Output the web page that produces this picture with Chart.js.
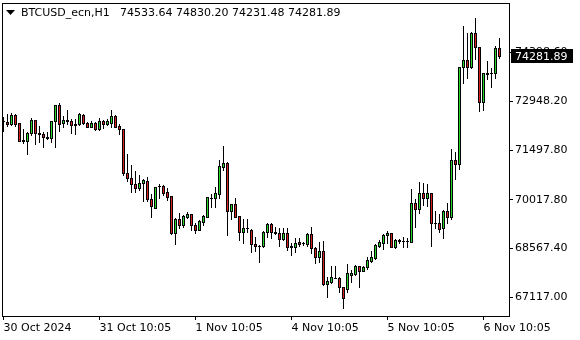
<!DOCTYPE html>
<html>
<head>
<meta charset="utf-8">
<script src="https://cdn.jsdelivr.net/npm/chart.js@4/dist/chart.umd.min.js"></script>
<style>
    html, body { margin: 0; padding: 0; background: #fff; }
    #wrap { width: 580px; height: 340px; }
</style>
</head>
<body>
<div id="wrap"><canvas id="priceChart" width="580" height="340"></canvas></div>
<script>
// BTCUSD_ecn H1 bars
const opens = [
    72350, 72332, 72264, 72532, 72294, 71776, 71776, 71996, 72392, 71996,
    71975, 71877, 71865, 72362, 72847, 72294, 72380, 72362, 72250, 72264,
    72541, 72294, 72193, 72294, 72133, 72362, 72264, 72312, 72511, 72213,
    72115, 70824, 70658, 70479, 70378, 70509, 70577, 70033, 69783, 70420,
    70428, 70241, 70131, 69021, 69438, 69268, 69515, 69595, 69268, 69119,
    69366, 69515, 70071, 70063, 70190, 71003, 71104, 69694, 69884, 69527,
    69051, 69188, 69119, 68694, 68650, 68643, 69051, 69289, 69051, 69021,
    68852, 69021, 68643, 68623, 68754, 68720, 68703, 69000, 68575, 68307,
    68495, 67504, 67581, 67705, 67683, 67415, 67355, 67781, 67802, 68048,
    67909, 68010, 68206, 68278, 68652, 68742, 68971, 69039, 68623, 68800,
    68790, 68801, 68754, 69914, 69735, 70211, 70063, 70211, 69319, 69319,
    69188, 69685, 69515, 71202, 71074, 73960, 74177, 73960, 74971, 74555,
    72919, 73752, 73785, 73781, 74533.64
];
const highs = [
    72490, 72570, 72591, 72570, 72300, 72115, 72026, 72443, 72400, 72213,
    72026, 72026, 72370, 72835, 72889, 72520, 72689, 72413, 72413, 72591,
    72562, 72341, 72362, 72324, 72460, 72392, 72413, 72689, 72541, 72273,
    72120, 71372, 71053, 70875, 70756, 70637, 70705, 70190, 70395, 70479,
    70458, 70360, 70135, 69485, 69634, 69566, 69664, 69600, 69319, 69417,
    69566, 70110, 70182, 70408, 71202, 71618, 71151, 69890, 70080, 69545,
    69438, 69438, 69140, 68920, 68673, 69099, 69319, 69319, 69200, 69170,
    69170, 69170, 68724, 68873, 68873, 68771, 69039, 69218, 68623, 68771,
    68792, 67730, 68048, 68048, 67712, 67433, 68108, 67929, 68078, 68055,
    68048, 68307, 68504, 68694, 68822, 69000, 69090, 69045, 68843, 68852,
    68920, 68890, 70339, 70033, 70539, 70509, 70488, 70215, 69685, 69595,
    69714, 69932, 71520, 71449, 73965, 75197, 74989, 75019, 75418, 74573,
    73785, 74147, 73930, 74593, 74830.20
];
const lows = [
    72074, 72205, 72243, 72222, 71770, 71708, 71380, 71946, 71678, 71746,
    71598, 71827, 71746, 71598, 72074, 72193, 72273, 72014, 71975, 72243,
    72264, 72175, 72175, 72103, 72103, 72145, 72243, 72193, 72175, 71967,
    70756, 70577, 70259, 70259, 70309, 69982, 69982, 69515, 69778, 70063,
    70161, 70012, 68992, 68703, 69188, 69218, 69485, 69119, 69021, 69110,
    69268, 69497, 69813, 69813, 70063, 70904, 68971, 69447, 69497, 68822,
    68724, 69069, 68456, 68495, 68176, 68623, 68920, 68873, 69015, 68643,
    68822, 68524, 68376, 68474, 68643, 68673, 68652, 68444, 68147, 68176,
    67483, 67135, 67534, 67683, 67284, 66790, 67284, 67581, 67781, 67433,
    67905, 67950, 68176, 68257, 68623, 68545, 68742, 68618, 68593, 68724,
    68623, 68623, 68750, 69218, 69616, 69863, 69833, 68652, 69170, 69051,
    68873, 69319, 69447, 70628, 70934, 73502, 73650, 73930, 74207, 72669,
    72689, 73603, 73383, 73650, 74231.48
];
const closes = [
    72370, 72264, 72532, 72282, 71776, 71790, 71996, 72392, 71996, 71990,
    71877, 71865, 72362, 72829, 72264, 72392, 72370, 72243, 72262, 72570,
    72294, 72193, 72294, 72133, 72362, 72264, 72362, 72511, 72193, 72115,
    70824, 70658, 70479, 70378, 70509, 70607, 70033, 69842, 70390, 70430,
    70229, 70110, 69021, 69438, 69268, 69545, 69595, 69268, 69119, 69387,
    69536, 70092, 70086, 70229, 71023, 71104, 69694, 69884, 69515, 69051,
    69188, 69180, 68694, 68652, 68640, 69051, 69289, 69051, 69021, 68852,
    69021, 68605, 68605, 68742, 68694, 68730, 69000, 68575, 68307, 68495,
    67504, 67602, 67712, 67695, 67415, 67088, 67831, 67849, 68048, 67909,
    68010, 68227, 68307, 68673, 68771, 68971, 69039, 68623, 68822, 68810,
    68783, 68795, 69914, 69735, 70211, 70063, 70211, 69319, 69325, 69140,
    69685, 69515, 71202, 71074, 73960, 74177, 73960, 74989, 74555, 72919,
    73781, 73799, 73790, 74525, 74281.89
];

const symbolName = 'BTCUSD_ecn,H1';
const xTickIdx = [0, 24, 48, 72, 96, 120];
const xLabels = ['30 Oct 2024', '31 Oct 10:05', '1 Nov 10:05', '4 Nov 10:05', '5 Nov 10:05', '6 Nov 10:05'];
const yTicks = [67117.00, 68567.40, 70017.80, 71497.80, 72948.20, 74398.60];

const BULL = '#28d828';
const BEAR = '#d81e1e';
const FONT = '"DejaVu Sans", sans-serif';

const last = closes.length - 1;

// candles: 1px wick, 3px body with a black outline, snapped to whole pixels
const candlePlugin = {
    id: 'candles',
    beforeDatasetsDraw(chart) {
        const { ctx, scales: { x, y } } = chart;
        const py = v => Math.round(y.getPixelForValue(v));
        ctx.save();
        for (let i = 0; i < opens.length; i++) {
            const cx = Math.floor(x.getPixelForValue(i));
            const top = Math.min(py(opens[i]), py(closes[i]));
            const bot = Math.max(py(opens[i]), py(closes[i]));
            ctx.fillStyle = '#000';
            ctx.fillRect(cx, py(highs[i]), 1, py(lows[i]) - py(highs[i]) + 1);
            ctx.fillRect(cx - 1, top, 3, bot - top + 1);
            if (bot - top >= 2 && closes[i] !== opens[i]) {
                ctx.fillStyle = closes[i] > opens[i] ? BULL : BEAR;
                ctx.fillRect(cx, top + 1, 1, bot - top - 1);
            }
        }
        ctx.restore();
    }
};

// frame, header line and current price box, drawn like the terminal does
const terminalPlugin = {
    id: 'terminal',
    afterDraw(chart) {
        const { ctx, chartArea: a, scales } = chart;
        ctx.save();
        ctx.strokeStyle = '#000';
        ctx.lineWidth = 1;
        ctx.strokeRect(a.left + 0.5, a.top + 0.5, a.right - a.left, a.bottom - a.top);

        // header
        ctx.fillStyle = '#000';
        ctx.beginPath();
        ctx.moveTo(6, 10);
        ctx.lineTo(15, 10);
        ctx.lineTo(10.5, 15);
        ctx.closePath();
        ctx.fill();
        ctx.font = '11px ' + FONT;
        ctx.textBaseline = 'middle';
        ctx.textAlign = 'left';
        ctx.fillText(symbolName, 21, 13);
        const ohlc = [opens[last], highs[last], lows[last], closes[last]].map(v => v.toFixed(2)).join(' ');
        ctx.fillText(ohlc, 120, 13);

        // price box
        const y = Math.round(scales.y.getPixelForValue(closes[last]));
        ctx.fillRect(a.right + 2, y - 7, 62, 14);
        ctx.fillStyle = '#fff';
        ctx.fillText(closes[last].toFixed(2), a.right + 6, y + 1);
        ctx.restore();
    }
};

new Chart(document.getElementById('priceChart'), {
    type: 'scatter',
    data: { datasets: [] },
    options: {
        responsive: false,
        animation: false,
        events: [],
        layout: { padding: { left: 2, top: 3, right: 0, bottom: 0 } },
        plugins: {
            legend: { display: false },
            tooltip: { enabled: false }
        },
        scales: {
            x: {
                type: 'linear',
                offset: false,
                min: -0.375,
                max: 126.375,
                bounds: 'data',
                afterBuildTicks: s => { s.ticks = xTickIdx.map(v => ({ value: v })); },
                afterFit: s => { s.height = 24; s.paddingLeft = 0; s.paddingRight = 0; },
                border: { display: false },
                grid: { offset: false, drawOnChartArea: false, tickLength: 4, color: '#000' },
                ticks: {
                    autoSkip: false,
                    maxRotation: 0,
                    align: 'start',
                    padding: 2,
                    color: '#000',
                    font: { family: FONT, size: 11 },
                    callback: v => xLabels[xTickIdx.indexOf(v)]
                }
            },
            y: {
                type: 'linear',
                position: 'right',
                min: 66560.9,
                max: 75872.65,
                bounds: 'data',
                afterBuildTicks: s => { s.ticks = yTicks.map(v => ({ value: v })); },
                afterFit: s => { s.width = 71; s.paddingTop = 0; s.paddingBottom = 0; },
                border: { display: false },
                grid: { drawOnChartArea: false, tickLength: 4, color: '#000' },
                ticks: {
                    padding: 2,
                    color: '#000',
                    font: { family: FONT, size: 11 },
                    callback: v => v.toFixed(2)
                }
            }
        }
    },
    plugins: [candlePlugin, terminalPlugin]
});
</script>
</body>
</html>
